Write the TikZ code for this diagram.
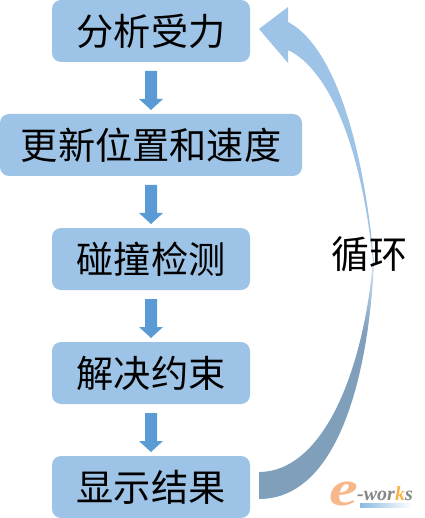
\documentclass[tikz,border=0pt]{standalone}
\usepackage{fontspec}
\newfontfamily\cjk{Noto Sans CJK SC}
\setmainfont{Liberation Serif}
\definecolor{boxblue}{HTML}{9DC3E6}
\definecolor{arrowblue}{HTML}{5B9BD5}
\definecolor{darkcurve}{HTML}{7F9FBB}
\definecolor{logoorange}{HTML}{F6B78A}
\definecolor{logogray}{HTML}{858585}
\definecolor{logoyellow}{HTML}{F9B54A}
\pgfdeclareverticalshading{loopshade}{100bp}{
  color(0bp)=(darkcurve);
  color(42bp)=(darkcurve);
  color(48bp)=(boxblue!60!white);
  color(52bp)=(boxblue);
  color(100bp)=(boxblue)}
\tikzset{
  stepbox/.style={fill=boxblue,rounded corners=9pt,inner sep=0pt,font=\cjk\fontsize{37.2}{38}\selectfont,text=black,anchor=center},
  downarrow/.style={fill=arrowblue,draw=none},
}
\begin{document}
\begin{tikzpicture}[x=1pt,y=-1pt]
\useasboundingbox (0,0) rectangle (424,518);
\node[stepbox,minimum width=198pt,minimum height=62pt] (a) at (151,31) {分析受力};
\node[stepbox,minimum width=302pt,minimum height=62pt] (b) at (151,145) {更新位置和速度};
\node[stepbox,minimum width=198pt,minimum height=62pt] (c) at (151,259) {碰撞检测};
\node[stepbox,minimum width=198pt,minimum height=62pt] (d) at (151,373) {解决约束};
\node[stepbox,minimum width=198pt,minimum height=62pt] (e) at (151,487) {显示结果};
\foreach \y in {71,185,299,413}{
  \fill[downarrow] (145,\y) -- (157,\y) -- (157,\y+28) -- (163,\y+28) -- (151,\y+39) -- (139,\y+28) -- (145,\y+28) -- cycle;
}
\path[shade,shading=loopshade]
  (259,29) -- (288,7) -- (288,22)
  .. controls (330,44) and (362,130) .. (374,262)
  .. controls (369,370) and (340,499) .. (259,499)
  -- (259,472)
  .. controls (320,472) and (362,380) .. (373,262)
  .. controls (362,150) and (330,70) .. (288,50)
  -- (288,63) -- cycle;
\node[font=\cjk\fontsize{38}{38}\selectfont,text=black,inner sep=0pt] (l) at (369,254) {循环};
\node[inner sep=0pt,font=\bfseries\itshape\fontsize{50}{50}\selectfont,text=logoorange,xscale=1.3] (logoe) at (344,494) {e};
\node[inner sep=0pt,font=\bfseries\itshape\fontsize{20}{20}\selectfont,text=logogray] (logo) at (385,494) {-wor\textcolor{logoyellow}{k}s};
\fill[left color=arrowblue!70!white,right color=white] (360,503) rectangle (412,507);
\end{tikzpicture}
\end{document}
